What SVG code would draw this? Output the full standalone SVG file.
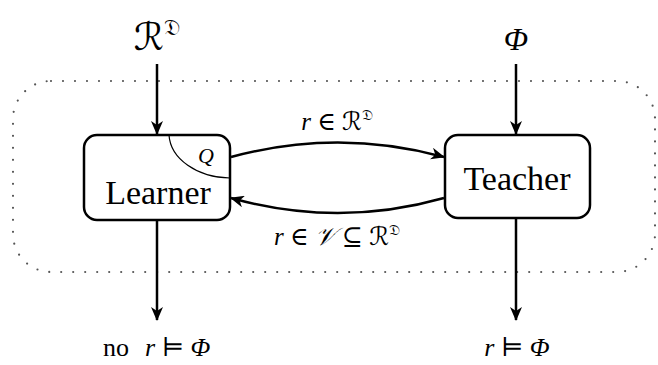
<svg xmlns="http://www.w3.org/2000/svg" width="658" height="365" viewBox="0 0 658 365">
<defs>
<marker id="ah" viewBox="0 0 14 12" refX="13" refY="6" markerWidth="14" markerHeight="12" markerUnits="userSpaceOnUse" orient="auto">
<path d="M0,0 L14,6 L0,12 L4,6 Z" fill="#000"/>
</marker>
<style>
.box{fill:#fff;stroke:#000;stroke-width:2.5}
.ln{fill:none;stroke:#000;stroke-width:2.5}
.t{font-family:"Liberation Serif","DejaVu Serif",serif;fill:#000}
.m{font-family:"Liberation Serif","DejaVu Serif","DejaVu Sans",serif;font-style:italic;fill:#000}
</style>
</defs>
<rect x="13" y="81" width="642" height="191" rx="38" ry="38" fill="none" stroke="#555" stroke-width="2.2" stroke-linecap="round" stroke-dasharray="0 12"/>
<g id="connectors">
<line class="ln" x1="157" y1="64" x2="157" y2="134" marker-end="url(#ah)"/>
<line class="ln" x1="516" y1="64" x2="516" y2="134" marker-end="url(#ah)"/>
<line class="ln" x1="157" y1="221" x2="157" y2="320" marker-end="url(#ah)"/>
<line class="ln" x1="516" y1="219" x2="516" y2="320" marker-end="url(#ah)"/>
<path class="ln" d="M231,157 Q338,128 444,157" marker-end="url(#ah)"/>
<path class="ln" d="M444,198 Q338,228 231,198" marker-end="url(#ah)"/>
</g>
<g id="learner">
<rect class="box" x="84" y="135" width="146" height="85" rx="13"/>
<path d="M169,135 A62,45 0 0 0 230,178" fill="none" stroke="#000" stroke-width="1.2"/>
<text class="m" x="198" y="163" font-size="22">Q</text>
<text class="t" x="158" y="204" font-size="34" text-anchor="middle">Learner</text>
</g>
<g id="teacher">
<rect class="box" x="445" y="135" width="145" height="83" rx="13"/>
<text class="t" x="517" y="190" font-size="34" text-anchor="middle">Teacher</text>
</g>
<g id="labels">
<text class="m" x="157" y="50" font-size="38" text-anchor="middle">ℛ<tspan font-size="22" dy="-15" font-style="normal">𝔇</tspan></text>
<text class="m" x="516" y="50" font-size="32" text-anchor="middle">Φ</text>
<text class="m" x="337" y="130" font-size="25" text-anchor="middle">r <tspan font-style="normal">∈</tspan> ℛ<tspan font-size="15" dy="-10" font-style="normal">𝔇</tspan></text>
<text class="m" x="337" y="245" font-size="25" text-anchor="middle">r <tspan font-style="normal">∈</tspan> 𝒱 <tspan font-style="normal">⊆</tspan> ℛ<tspan font-size="15" dy="-10" font-style="normal">𝔇</tspan></text>
<text class="t" x="103" y="356" font-size="26">no</text>
<text class="m" x="145" y="356" font-size="26">r <tspan font-style="normal">⊨</tspan> Φ</text>
<text class="m" x="517" y="356" font-size="26" text-anchor="middle">r <tspan font-style="normal">⊨</tspan> Φ</text>
</g>
</svg>
